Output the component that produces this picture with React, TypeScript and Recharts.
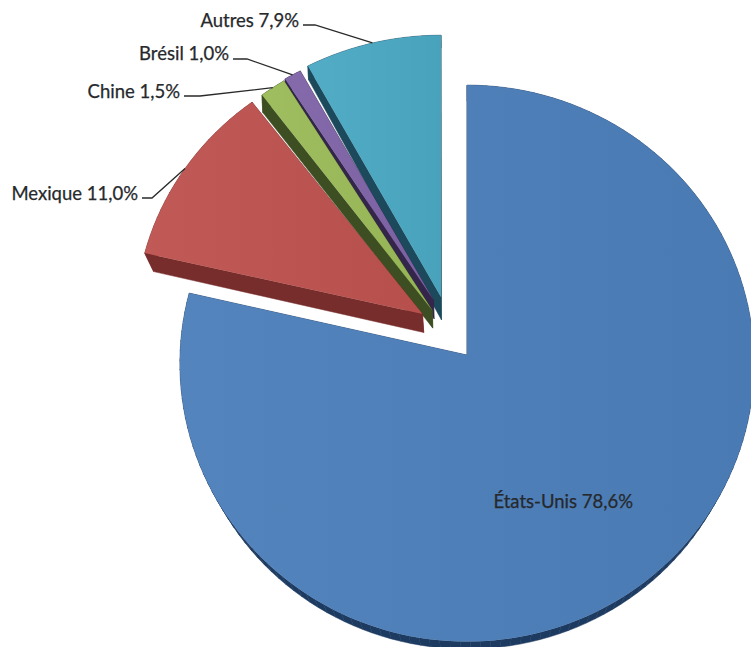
import { Pie, PieChart } from "recharts";

// painted back to front: the pie runs counter-clockwise from 12 o'clock
const categories = ["Autres", "Brésil", "Chine", "Mexique", "États-Unis"];
const shares = [7.9, 1.0, 1.5, 11.0, 78.6];

const rows = categories.map((category, i) => ({ category, share: shares[i] }));

const topFill: Record<string, string> = {
  "Autres": "#4BA9C4",
  "Brésil": "#8064A8",
  "Chine": "#9BBB59",
  "Mexique": "#BE5350",
  "États-Unis": "#4D7FBA",
};
const wallFill: Record<string, string> = {
  "Autres": "#1C4A5C",
  "Brésil": "#33264A",
  "Chine": "#3C4E22",
  "Mexique": "#772D2B",
  "États-Unis": "#1D3A60",
};
// how far each slice is pulled out of the pie
const pullOut: Record<string, [number, number]> = {
  "Autres": [-26, -58],
  "Brésil": [-33.5, -55],
  "Chine": [-34.6, -44.4],
  "Mexique": [-44.5, -41],
  "États-Unis": [0, 0],
};
// the slices lifted furthest get foreshortened a little
const squash: Record<string, number> = {
  "Autres": 0.97,
  "Brésil": 0.962,
  "Chine": 1,
  "Mexique": 0.983,
  "États-Unis": 1,
};
// wall height: base, plus growth per pixel towards the viewer
const wallDepth: Record<string, [number, number]> = {
  "Autres": [11.3, 0.039],
  "Brésil": [11.3, 0.025],
  "Chine": [17.5, 0],
  "Mexique": [18.5, 0],
  "États-Unis": [16, 0],
};
// how much the wall feet lean back towards the pie's axis
const sideLean: Record<string, number> = {
  "Autres": 0.00007,
  "Brésil": 0.00007,
  "Chine": 0.00004,
  "Mexique": 0.00011,
  "États-Unis": 0.00011,
};
// label text anchor (right end, baseline) and leader elbow
const labelAt: Record<string, { x: number; y: number; elbow?: [number, number] }> = {
  "Autres": { x: 299, y: 27, elbow: [315, 25] },
  "Brésil": { x: 229, y: 60, elbow: [247, 59] },
  "Chine": { x: 180, y: 98, elbow: [200, 96] },
  "Mexique": { x: 138, y: 200, elbow: [152, 198] },
  "États-Unis": { x: 633, y: 508 },
};

const RY_RATIO = 278 / 287;
const TILT = 0.03;
const FLOOR_SHRINK = 0.03;
const SIDE_LEAN_MAX_Y = 254;

// unit-circle angle (degrees, ccw from 3 o'clock) to a tilted rim offset
function rim(angle: number, r: number, name: string): [number, number] {
  const a = (angle * Math.PI) / 180;
  const d = 1 + TILT * Math.sin(a);
  return [(r * Math.cos(a)) / d, (-r * RY_RATIO * squash[name] * Math.sin(a)) / d];
}

function SliceSlab(props: any) {
  const { cx, cy, outerRadius, startAngle, endAngle } = props;
  const name = props.category ?? props.payload?.category;
  const [ox, oy] = pullOut[name];
  const lo = Math.min(startAngle, endAngle);
  const hi = Math.max(startAngle, endAngle);
  const steps = Math.max(4, Math.ceil((hi - lo) / 2));

  const face: [number, number][] = [[cx + ox, cy + oy]];
  for (let i = 0; i <= steps; i++) {
    const [dx, dy] = rim(lo + ((hi - lo) * i) / steps, outerRadius, name);
    face.push([cx + ox + dx, cy + oy + dy]);
  }
  const [depthBase, depthGrowth] = wallDepth[name];
  // foot of the wall under a rim point
  const drop = ([x, y]: [number, number]): [number, number] => [
    x + (cx - x) * Math.min(y, SIDE_LEAN_MAX_Y) * sideLean[name],
    y + depthBase + depthGrowth * y - FLOOR_SHRINK * Math.max(0, y - cy),
  ];
  const toPoints = (pts: [number, number][]) => pts.map((p) => p.join(",")).join(" ");
  const gradId = `slice-sheen-${Math.round(lo)}`;

  return (
    <g>
      <defs>
        <linearGradient id={gradId} x1="0" y1="0" x2="1" y2="0">
          <stop offset="0" stopColor="#fff" stopOpacity={0.04} />
          <stop offset="1" stopColor="#000" stopOpacity={0.04} />
        </linearGradient>
      </defs>
      {face.map((p, i) => {
        const q = face[(i + 1) % face.length];
        return (
          <polygon
            key={i}
            points={toPoints([p, q, drop(q), drop(p)])}
            fill={wallFill[name]}
            stroke={wallFill[name]}
            strokeWidth={0.5}
          />
        );
      })}
      <polygon points={toPoints(face)} fill={topFill[name]} />
      <polygon points={toPoints(face)} fill={`url(#${gradId})`} />
    </g>
  );
}

function SliceLabel(props: any) {
  const { cx, cy, outerRadius, midAngle, index } = props;
  const name = categories[index];
  const place = labelAt[name];
  const [ox, oy] = pullOut[name];
  const [dx, dy] = rim(midAngle, outerRadius, name);
  const text = `${name} ${shares[index].toFixed(1).replace(".", ",")}%`;
  return (
    <g>
      {place.elbow && (
        <polyline
          points={`${place.x + 4},${place.elbow[1]} ${place.elbow.join(",")} ${cx + ox + dx},${cy + oy + dy}`}
          fill="none"
          stroke="#2a2a2a"
          strokeWidth={1.3}
        />
      )}
      <text
        x={place.x}
        y={place.y}
        textAnchor="end"
        fontFamily="Lato"
        fontSize={18.5}
        fill="#26292c"
        stroke="#26292c"
        strokeWidth={0.25}
      >
        {text}
      </text>
    </g>
  );
}

export default function App() {
  return (
    <div style={{ position: "absolute", left: 0, top: 0, width: 751, height: 647, overflow: "hidden", background: "#fff" }}>
      <PieChart width={751} height={647} margin={{ top: 0, right: 0, bottom: 0, left: 0 }}>
        <Pie
          data={rows}
          dataKey="share"
          nameKey="category"
          cx={467}
          cy={355}
          innerRadius={0}
          outerRadius={287}
          startAngle={90}
          endAngle={450}
          paddingAngle={0}
          stroke="none"
          shape={SliceSlab}
          label={SliceLabel}
          labelLine={false}
          isAnimationActive={false}
        />
      </PieChart>
    </div>
  );
}
